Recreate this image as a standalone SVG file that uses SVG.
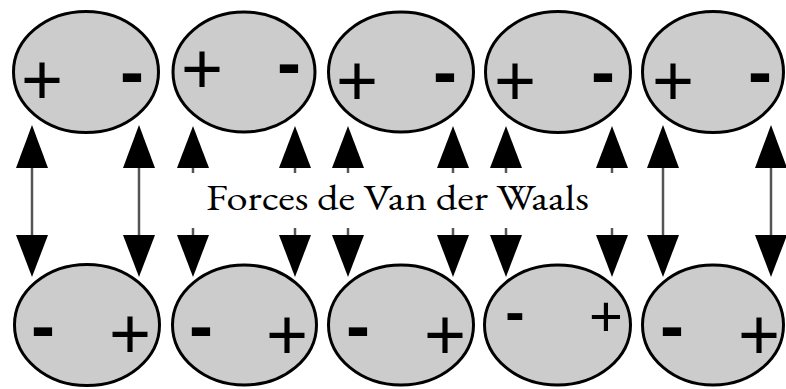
<svg xmlns="http://www.w3.org/2000/svg" xmlns:xlink="http://www.w3.org/1999/xlink" width="786" height="389" viewBox="0 0 786 389">
<style>
.mol{fill:#cccccc;stroke:#000;stroke-width:3}
.sign{font-family:"Liberation Sans",Arial,sans-serif;font-size:72px;fill:#000;text-anchor:middle}
.minus{font-weight:bold}
.small{font-size:58px}
.shaft{stroke:#555;stroke-width:2.5;fill:none}
.head{fill:#000}
.label{font-family:"EB Garamond","Liberation Serif","Times New Roman",serif;font-size:37px;fill:#000}
</style>
<defs>
<g id="fullArrow">
<line class="shaft" x1="0" y1="166" x2="0" y2="237"/>
<polygon class="head" points="0,125 -16,168 16,168"/>
<polygon class="head" points="-16,235 16,235 0,277"/>
</g>
<g id="splitArrow">
<line class="shaft" x1="0" y1="166" x2="0" y2="173"/>
<line class="shaft" x1="0" y1="228" x2="0" y2="237"/>
<polygon class="head" points="0,126 -16,168 16,168"/>
<polygon class="head" points="-16,235 16,235 0,277"/>
</g>
</defs>
<rect width="786" height="389" fill="#fff"/>
<g id="connectors">
<use xlink:href="#fullArrow" x="32"/>
<use xlink:href="#fullArrow" x="139"/>
<use xlink:href="#splitArrow" x="193"/>
<use xlink:href="#splitArrow" x="295"/>
<use xlink:href="#splitArrow" x="348"/>
<use xlink:href="#splitArrow" x="453"/>
<use xlink:href="#splitArrow" x="506"/>
<use xlink:href="#splitArrow" x="612"/>
<use xlink:href="#fullArrow" x="663"/>
<use xlink:href="#fullArrow" x="771"/>
</g>
<g id="top1"><ellipse class="mol" cx="86" cy="72" rx="72.5" ry="60.5"/><text class="sign" x="42" y="103.6">+</text><text class="sign minus" x="132" y="96">-</text></g>
<g id="top2"><ellipse class="mol" cx="244" cy="72" rx="71" ry="60"/><text class="sign" x="202" y="92.6">+</text><text class="sign minus" x="289" y="87">-</text></g>
<g id="top3"><ellipse class="mol" cx="401" cy="72" rx="72.5" ry="60"/><text class="sign" x="357" y="104.6">+</text><text class="sign minus" x="445" y="96">-</text></g>
<g id="top4"><ellipse class="mol" cx="558" cy="72" rx="72.5" ry="60.5"/><text class="sign" x="515" y="104.6">+</text><text class="sign minus" x="603" y="96">-</text></g>
<g id="top5"><ellipse class="mol" cx="713" cy="72" rx="70.5" ry="60.5"/><text class="sign" x="673" y="104.6">+</text><text class="sign minus" x="760" y="96">-</text></g>
<g id="bottom1"><ellipse class="mol" cx="87" cy="325" rx="72.5" ry="60.5"/><text class="sign minus" x="43" y="350">-</text><text class="sign" x="130" y="357.6">+</text></g>
<g id="bottom2"><ellipse class="mol" cx="244.5" cy="325" rx="72" ry="60"/><text class="sign minus" x="201" y="350">-</text><text class="sign" x="287" y="358.6">+</text></g>
<g id="bottom3"><ellipse class="mol" cx="401" cy="325" rx="72.5" ry="60"/><text class="sign minus" x="358" y="350">-</text><text class="sign" x="445" y="358.6">+</text></g>
<g id="bottom4"><ellipse class="mol" cx="557.5" cy="325" rx="73" ry="60"/><text class="sign small minus" x="515" y="332.4">-</text><text class="sign small" x="606" y="335.6">+</text></g>
<g id="bottom5"><ellipse class="mol" cx="713" cy="325" rx="70.5" ry="60"/><text class="sign minus" x="672" y="350">-</text><text class="sign" x="759" y="358.6">+</text></g>
<g id="label"><text class="label" x="206" y="210" textLength="383" lengthAdjust="spacingAndGlyphs">Forces de Van der Waals</text></g>
</svg>
